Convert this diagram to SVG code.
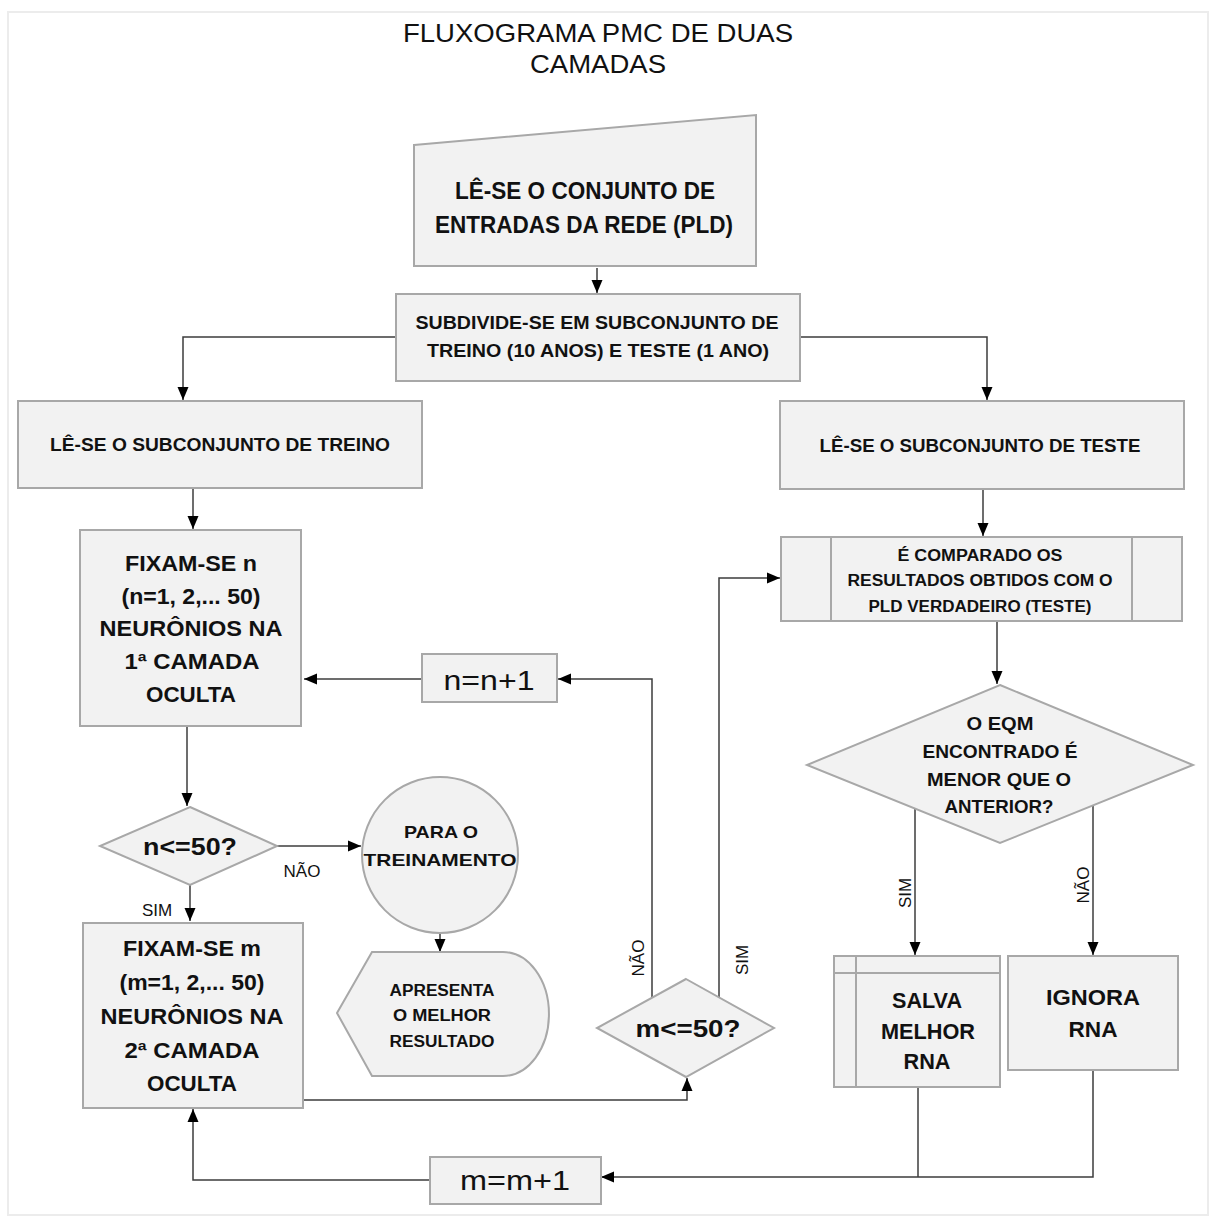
<svg xmlns="http://www.w3.org/2000/svg" width="1209" height="1220" viewBox="0 0 1209 1220">
<style>
.box{fill:#f2f2f2;stroke:#a8a8a8;stroke-width:2}
.in{fill:none;stroke:#a8a8a8;stroke-width:2}
.c{fill:none;stroke:#3c3c3c;stroke-width:1.5}
text{font-family:"Liberation Sans",Arial,sans-serif;fill:#111;text-anchor:middle}
.b{font-weight:bold}
.lab{font-size:17px}
</style>
<defs>
<marker id="ah" markerUnits="userSpaceOnUse" markerWidth="14" markerHeight="14" viewBox="0 0 14 14" refX="13" refY="7" orient="auto">
<path d="M0,1.5 L13,7 L0,12.5 Z" fill="#000"/>
</marker>
</defs>
<rect width="1209" height="1220" fill="#fff"/>
<rect x="8" y="12" width="1200" height="1203" fill="none" stroke="#ececec" stroke-width="2"/>
<g id="title">
<text x="598" y="42" font-size="26" textLength="390" lengthAdjust="spacingAndGlyphs">FLUXOGRAMA  PMC DE DUAS</text>
<text x="598" y="73" font-size="26" textLength="136" lengthAdjust="spacingAndGlyphs">CAMADAS</text>
</g>
<g id="connectors">
<path class="c" d="M597,268 V293" marker-end="url(#ah)"/>
<path class="c" d="M396,337 H183 V400" marker-end="url(#ah)"/>
<path class="c" d="M800,337 H987 V400" marker-end="url(#ah)"/>
<path class="c" d="M193,488 V529" marker-end="url(#ah)"/>
<path class="c" d="M983,489 V536" marker-end="url(#ah)"/>
<path class="c" d="M997,621 V684" marker-end="url(#ah)"/>
<path class="c" d="M187,726 V806" marker-end="url(#ah)"/>
<path class="c" d="M277,846 H361" marker-end="url(#ah)"/>
<path class="c" d="M190,885 V921" marker-end="url(#ah)"/>
<path class="c" d="M440,933 V952" marker-end="url(#ah)"/>
<path class="c" d="M422,679 H304" marker-end="url(#ah)"/>
<path class="c" d="M652,998 V679 H558" marker-end="url(#ah)"/>
<path class="c" d="M719,998 V578 H780" marker-end="url(#ah)"/>
<path class="c" d="M303,1100 H687 V1078" marker-end="url(#ah)"/>
<path class="c" d="M915,809 V955" marker-end="url(#ah)"/>
<path class="c" d="M1093,806 V955" marker-end="url(#ah)"/>
<path class="c" d="M918,1087 V1177"/>
<path class="c" d="M1093,1070 V1177 H601" marker-end="url(#ah)"/>
<path class="c" d="M430,1180 H193 V1109" marker-end="url(#ah)"/>
<text class="lab" x="302" y="877">NÃO</text>
<text class="lab" x="157" y="916">SIM</text>
<text class="lab" transform="translate(644,958) rotate(-90)">NÃO</text>
<text class="lab" transform="translate(748,960) rotate(-90)">SIM</text>
<text class="lab" transform="translate(911,893) rotate(-90)">SIM</text>
<text class="lab" transform="translate(1089,885) rotate(-90)">NÃO</text>
</g>
<g id="n1">
<polygon class="box" points="414,145 756,115 756,266 414,266"/>
<text class="b" x="585" y="199" font-size="24" textLength="260" lengthAdjust="spacingAndGlyphs">LÊ-SE O CONJUNTO  DE</text>
<text class="b" x="584" y="233" font-size="24" textLength="298" lengthAdjust="spacingAndGlyphs">ENTRADAS DA REDE (PLD)</text>
</g>
<g id="n2">
<rect class="box" x="396" y="294" width="404" height="87"/>
<text class="b" x="597" y="329" font-size="18" textLength="363" lengthAdjust="spacingAndGlyphs">SUBDIVIDE-SE EM SUBCONJUNTO DE</text>
<text class="b" x="598" y="357" font-size="18" textLength="342" lengthAdjust="spacingAndGlyphs">TREINO (10 ANOS) E TESTE (1 ANO)</text>
</g>
<g id="n3">
<rect class="box" x="18" y="401" width="404" height="87"/>
<text class="b" x="220" y="451" font-size="18" textLength="340" lengthAdjust="spacingAndGlyphs">LÊ-SE O SUBCONJUNTO DE TREINO</text>
</g>
<g id="n4">
<rect class="box" x="780" y="401" width="404" height="88"/>
<text class="b" x="980" y="452" font-size="18" textLength="321" lengthAdjust="spacingAndGlyphs">LÊ-SE O SUBCONJUNTO DE TESTE</text>
</g>
<g id="n5">
<rect class="box" x="80" y="530" width="221" height="196"/>
<text class="b" x="191" y="571" font-size="22" textLength="132" lengthAdjust="spacingAndGlyphs">FIXAM-SE n</text>
<text class="b" x="191" y="604" font-size="22" textLength="139" lengthAdjust="spacingAndGlyphs">(n=1, 2,... 50)</text>
<text class="b" x="191" y="636" font-size="22" textLength="183" lengthAdjust="spacingAndGlyphs">NEURÔNIOS NA</text>
<text class="b" x="192" y="669" font-size="22" textLength="135" lengthAdjust="spacingAndGlyphs">1ª CAMADA</text>
<text class="b" x="191" y="702" font-size="22" textLength="90" lengthAdjust="spacingAndGlyphs">OCULTA</text>
</g>
<g id="n6">
<rect class="box" x="781" y="537" width="401" height="84"/>
<line class="in" x1="831" y1="537" x2="831" y2="621"/>
<line class="in" x1="1132" y1="537" x2="1132" y2="621"/>
<text class="b" x="980" y="561" font-size="16" textLength="165" lengthAdjust="spacingAndGlyphs">É COMPARADO OS</text>
<text class="b" x="980" y="586" font-size="16" textLength="265" lengthAdjust="spacingAndGlyphs">RESULTADOS OBTIDOS COM O</text>
<text class="b" x="980" y="612" font-size="16" textLength="223" lengthAdjust="spacingAndGlyphs">PLD VERDADEIRO (TESTE)</text>
</g>
<g id="n7">
<polygon class="box" points="1000,685 1193,765 1000,843 807,765"/>
<text class="b" x="1000" y="730" font-size="19" textLength="67" lengthAdjust="spacingAndGlyphs">O EQM</text>
<text class="b" x="1000" y="758" font-size="19" textLength="155" lengthAdjust="spacingAndGlyphs">ENCONTRADO É</text>
<text class="b" x="999" y="786" font-size="19" textLength="144" lengthAdjust="spacingAndGlyphs">MENOR QUE O</text>
<text class="b" x="999" y="813" font-size="19" textLength="109" lengthAdjust="spacingAndGlyphs">ANTERIOR?</text>
</g>
<g id="n8">
<polygon class="box" points="190,807 277,846 190,885 100,846"/>
<text class="b" x="190" y="855" font-size="24" textLength="94" lengthAdjust="spacingAndGlyphs">n&lt;=50?</text>
</g>
<g id="n9">
<circle class="box" cx="440" cy="855" r="78"/>
<text class="b" x="441" y="838" font-size="17" textLength="74" lengthAdjust="spacingAndGlyphs">PARA O</text>
<text class="b" x="440" y="866" font-size="17" textLength="153" lengthAdjust="spacingAndGlyphs">TREINAMENTO</text>
</g>
<g id="n10">
<path class="box" d="M337,1013 L372,952 L503,952 A46,62 0 0 1 503,1076 L372,1076 Z"/>
<text class="b" x="442" y="996" font-size="16" textLength="105" lengthAdjust="spacingAndGlyphs">APRESENTA</text>
<text class="b" x="442" y="1021" font-size="16" textLength="98" lengthAdjust="spacingAndGlyphs">O MELHOR</text>
<text class="b" x="442" y="1047" font-size="16" textLength="105" lengthAdjust="spacingAndGlyphs">RESULTADO</text>
</g>
<g id="n11">
<rect class="box" x="83" y="923" width="220" height="185"/>
<text class="b" x="192" y="956" font-size="22" textLength="138" lengthAdjust="spacingAndGlyphs">FIXAM-SE m</text>
<text class="b" x="192" y="990" font-size="22" textLength="145" lengthAdjust="spacingAndGlyphs">(m=1, 2,... 50)</text>
<text class="b" x="192" y="1024" font-size="22" textLength="183" lengthAdjust="spacingAndGlyphs">NEURÔNIOS NA</text>
<text class="b" x="192" y="1058" font-size="22" textLength="135" lengthAdjust="spacingAndGlyphs">2ª CAMADA</text>
<text class="b" x="192" y="1091" font-size="22" textLength="90" lengthAdjust="spacingAndGlyphs">OCULTA</text>
</g>
<g id="n12">
<rect class="box" x="422" y="654" width="135" height="48"/>
<text x="489" y="690" font-size="28" textLength="91" lengthAdjust="spacingAndGlyphs">n=n+1</text>
</g>
<g id="n13">
<polygon class="box" points="686,979 774,1028 686,1077 597,1028"/>
<text class="b" x="688" y="1037" font-size="24" textLength="105" lengthAdjust="spacingAndGlyphs">m&lt;=50?</text>
</g>
<g id="n14">
<rect class="box" x="834" y="956" width="166" height="131"/>
<line class="in" x1="856" y1="956" x2="856" y2="1087"/>
<line class="in" x1="834" y1="973" x2="1000" y2="973"/>
<text class="b" x="927" y="1008" font-size="22" textLength="70" lengthAdjust="spacingAndGlyphs">SALVA</text>
<text class="b" x="928" y="1039" font-size="22" textLength="94" lengthAdjust="spacingAndGlyphs">MELHOR</text>
<text class="b" x="927" y="1069" font-size="22" textLength="47" lengthAdjust="spacingAndGlyphs">RNA</text>
</g>
<g id="n15">
<rect class="box" x="1008" y="956" width="170" height="114"/>
<text class="b" x="1093" y="1005" font-size="22" textLength="94" lengthAdjust="spacingAndGlyphs">IGNORA</text>
<text class="b" x="1093" y="1037" font-size="22" textLength="49" lengthAdjust="spacingAndGlyphs">RNA</text>
</g>
<g id="n16">
<rect class="box" x="430" y="1157" width="171" height="47"/>
<text x="515" y="1190" font-size="28" textLength="110" lengthAdjust="spacingAndGlyphs">m=m+1</text>
</g>
</svg>
